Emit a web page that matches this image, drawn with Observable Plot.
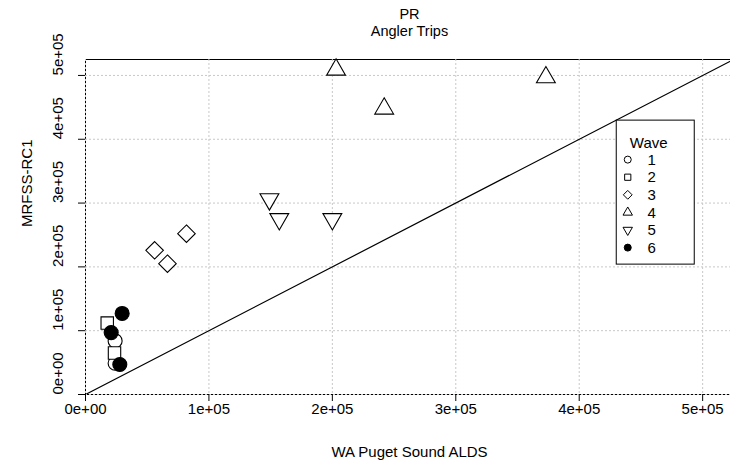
<!DOCTYPE html>
<html>
<head>
<meta charset="utf-8">
<script src="https://cdn.jsdelivr.net/npm/d3@7"></script>
<script src="https://cdn.jsdelivr.net/npm/@observablehq/plot@0.6"></script>
<style>
  html, body { margin: 0; padding: 0; background: #fff; }
  #chart svg { display: block; font-family: "Liberation Sans", Arial, sans-serif; }
</style>
</head>
<body>
<div id="chart"></div>
<script>
// Angler trips per wave: WA Puget Sound ALDS estimate vs MRFSS-RC1 estimate
const wave   = [1, 1, 2, 2, 3, 3, 3, 4, 4, 4, 5, 5, 5, 6, 6, 6];
const alds   = [24000, 24000, 17600, 23500, 56000, 66400, 81800, 203000, 242000, 373000, 149000, 157000, 200000, 29700, 20800, 27800];
const mrfss  = [84000, 49000, 112000, 65000, 226000, 205000, 252000, 509000, 448000, 497000, 306000, 275000, 275000, 127000, 97000, 47000];

const waveLabels = ["1", "2", "3", "4", "5", "6"];
const axisTicks = [0, 1e5, 2e5, 3e5, 4e5, 5e5];
const tickLabels = ["0e+00", "1e+05", "2e+05", "3e+05", "4e+05", "5e+05"];
const axisLimit = 5.25e5;
const identityLine = [0, 1e6];   // y = x reference line
const legendAt = 4.3e5;          // legend corner, on the y = x line

const points = wave.map((w, i) => ({wave: w, x: alds[i], y: mrfss[i]}));

// Base-graphics style plotting symbols (pch 1, 0, 5, 2, 6, 19)
const rOf = size => Math.sqrt(size / Math.PI);
const pch = {
  1: {draw(c, s) { const r = rOf(s); c.moveTo(r, 0); c.arc(0, 0, r, 0, 2 * Math.PI); }},
  2: {draw(c, s) { const r = rOf(s), h = 0.886 * r; c.rect(-h, -h, 2 * h, 2 * h); }},
  3: {draw(c, s) { const d = 1.253 * rOf(s); c.moveTo(0, -d); c.lineTo(d, 0); c.lineTo(0, d); c.lineTo(-d, 0); c.closePath(); }},
  4: {draw(c, s) { const r = rOf(s), t = 1.555 * r, yc = 0.7776 * r, xc = 1.3468 * r;
       c.moveTo(0, -t); c.lineTo(xc, yc); c.lineTo(-xc, yc); c.closePath(); }},
  5: {draw(c, s) { const r = rOf(s), t = 1.555 * r, yc = 0.7776 * r, xc = 1.3468 * r;
       c.moveTo(0, t); c.lineTo(xc, -yc); c.lineTo(-xc, -yc); c.closePath(); }},
  6: {draw(c, s) { const r = rOf(s); c.moveTo(r, 0); c.arc(0, 0, r, 0, 2 * Math.PI); }}
};

const FONT = 15;
const TITLE_FONT = 14.5;

const plot = Plot.plot({
  width: 730,
  height: 474,
  marginLeft: 85,
  marginRight: -3,
  marginTop: 59,
  marginBottom: 80,
  style: {fontFamily: "Liberation Sans, Arial, sans-serif", fontSize: FONT + "px", color: "#000", background: "#fff"},
  x: {type: "linear", domain: [0, axisLimit], axis: null},
  y: {type: "linear", domain: [0, axisLimit], axis: null},
  marks: [
    Plot.frame({stroke: "#000", strokeWidth: 1}),
    Plot.gridX(axisTicks, {stroke: "#c8c8c8", strokeOpacity: 1, strokeDasharray: "2,2"}),
    Plot.gridY(axisTicks, {stroke: "#c8c8c8", strokeOpacity: 1, strokeDasharray: "2,2"}),
    Plot.line(identityLine, {x: d => d, y: d => d, stroke: "#000", strokeWidth: 1.2, clip: true}),
    ...[1, 2, 3, 4, 5, 6].map(w =>
      Plot.dot(points.filter(d => d.wave === w), {
        x: "x", y: "y", r: 7, symbol: pch[w],
        stroke: "#000", strokeWidth: 1.1,
        fill: w === 6 ? "#000" : "#fff"
      })
    ),
    // tick marks
    Plot.axisX(axisTicks, {tickSize: 7, tickFormat: () => "", label: null}),
    Plot.axisY(axisTicks, {tickSize: 7, tickFormat: () => "", label: null}),
    // tick labels
    Plot.text(axisTicks, {x: d => d, text: (d, i) => tickLabels[i], frameAnchor: "bottom", dy: 19, fontSize: FONT}),
    Plot.text(axisTicks, {y: d => d, text: (d, i) => tickLabels[i], frameAnchor: "left", dx: -27, rotate: -90, fontSize: FONT}),
    // axis titles
    Plot.text(["WA Puget Sound ALDS"], {text: d => d, frameAnchor: "bottom", dy: 62, fontSize: FONT}),
    Plot.text(["MRFSS-RC1"], {text: d => d, frameAnchor: "left", dx: -58, rotate: -90, fontSize: FONT}),
    // titles
    Plot.text(["PR"], {text: d => d, frameAnchor: "top", dy: -51, fontSize: TITLE_FONT}),
    Plot.text(["Angler Trips"], {text: d => d, frameAnchor: "top", dy: -34, fontSize: TITLE_FONT})
  ]
});

// Legend box anchored at its top-left corner in data space
const sx = plot.scale("x"), sy = plot.scale("y");
const svg = d3.select(plot);
const lg = svg.append("g")
  .attr("transform", `translate(${sx.apply(legendAt)},${sy.apply(legendAt)})`)
  .attr("font-family", "Liberation Sans, Arial, sans-serif")
  .attr("font-size", FONT);
lg.append("rect")
  .attr("x", 0.5).attr("y", 0.5).attr("width", 78).attr("height", 144)
  .attr("fill", "#fff").attr("stroke", "#000");
lg.append("text").attr("x", 33).attr("y", 23).attr("dy", "0.35em").text("Wave");
waveLabels.forEach((lab, i) => {
  const w = i + 1, yy = 40 + i * 17.6;
  lg.append("path")
    .attr("transform", `translate(12,${yy})`)
    .attr("d", d3.symbol(pch[w], Math.PI * 3.5 * 3.5)())
    .attr("fill", w === 6 ? "#000" : "none")
    .attr("stroke", "#000").attr("stroke-width", 1);
  lg.append("text").attr("x", 36).attr("y", yy).attr("dy", "0.35em").text(lab);
});

document.getElementById("chart").append(plot);
</script>
</body>
</html>
